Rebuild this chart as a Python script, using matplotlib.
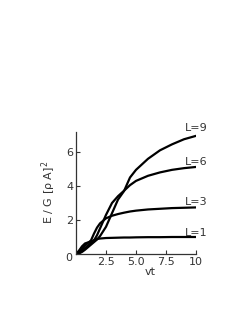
import matplotlib
matplotlib.use("Agg")
import matplotlib.pyplot as plt

vt = [0, 0.25, 0.5, 0.75, 1.0, 1.25, 1.5, 1.75, 2.0, 2.5, 3.0, 3.5, 4.0, 4.5, 5.0, 6.0, 7.0, 8.0, 9.0, 10.0]
E_L1 = [0, 0.2, 0.45, 0.62, 0.68, 0.72, 0.82, 0.88, 0.91, 0.94, 0.95, 0.96, 0.97, 0.97, 0.98, 0.99, 0.99, 1.0, 1.0, 1.0]
E_L3 = [0, 0.1, 0.3, 0.5, 0.65, 0.8, 1.2, 1.55, 1.8, 2.1, 2.25, 2.35, 2.43, 2.5, 2.55, 2.62, 2.66, 2.7, 2.72, 2.74]
E_L6 = [0, 0.05, 0.2, 0.35, 0.5, 0.65, 0.8, 1.1, 1.5, 2.3, 3.0, 3.4, 3.72, 4.05, 4.3, 4.6, 4.8, 4.95, 5.05, 5.12]
E_L9 = [0, 0.03, 0.12, 0.25, 0.4, 0.55, 0.7, 0.85, 1.05, 1.6, 2.4, 3.2, 3.7, 4.5, 4.95, 5.6, 6.1, 6.45, 6.75, 6.95]
series = [("L=1", E_L1), ("L=3", E_L3), ("L=6", E_L6), ("L=9", E_L9)]
label_y = {"L=1": 1.25, "L=3": 3.06, "L=6": 5.43, "L=9": 7.4}

xticks = [2.5, 5.0, 7.5, 10]
xticklabels = ["2.5", "5.0", "7.5", "10"]
yticks = [2, 4, 6]
yticklabels = ["2", "4", "6"]

fig = plt.figure(figsize=(2.49, 3.23), dpi=100)
ax = fig.add_axes([76/249, 69/323, 120/249, 122.4/323])
for name, ys in series:
    ax.plot(vt, ys, color="black", lw=1.6, solid_capstyle="round")
    ax.text(10, label_y[name], name, ha="center", va="center", fontsize=8, color="#333333", clip_on=False)

ax.set_xlim(0, 10)
ax.set_ylim(0, 7.2)
ax.set_xticks(xticks)
ax.set_xticklabels(xticklabels)
ax.set_yticks(yticks)
ax.set_yticklabels(yticklabels)
ax.tick_params(direction="in", length=3, width=0.8, labelsize=8, colors="#333333", pad=2)
for s in ["top", "right"]:
    ax.spines[s].set_visible(False)
for s in ["left", "bottom"]:
    ax.spines[s].set_color("#333333")
    ax.spines[s].set_linewidth(0.9)
ax.text(-0.03, -0.03, "0", transform=ax.transAxes, ha="right", va="center", fontsize=8, color="#333333")
ax.set_xlabel("vt", fontsize=8, color="#333333", labelpad=0)
ax.xaxis.set_label_coords(0.62, -0.11)
ax.set_ylabel("E / G [ρ A]$^2$", fontsize=8, color="#333333")
ax.yaxis.set_label_coords(-0.15, 0.5)
fig.savefig("out.png", dpi=100)
